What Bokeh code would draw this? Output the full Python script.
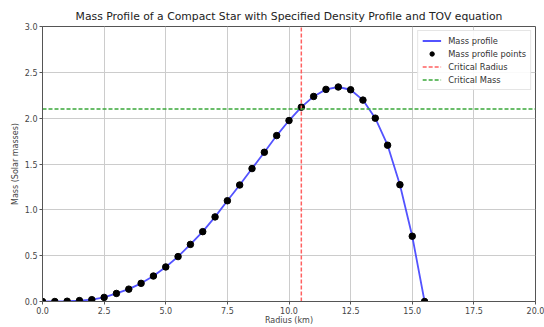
from bokeh.plotting import figure
from bokeh.models import Span, Legend, LegendItem, FixedTicker, Range1d
from bokeh.embed import file_html
from bokeh.resources import INLINE

radius_km = [0.0, 0.5, 1.0, 1.5, 2.0, 2.5, 3.0, 3.5, 4.0, 4.5, 5.0, 5.5, 6.0, 6.5, 7.0, 7.5,
             8.0, 8.5, 9.0, 9.5, 10.0, 10.5, 11.0, 11.5, 12.0, 12.5, 13.0, 13.5, 14.0, 14.5, 15.0, 15.5]
mass_solar = [0.0, 0.0, 0.003, 0.01, 0.02, 0.045, 0.088, 0.135, 0.198, 0.278, 0.377, 0.49, 0.623, 0.762,
              0.923, 1.099, 1.271, 1.45, 1.628, 1.81, 1.974, 2.12, 2.237, 2.314, 2.34, 2.31, 2.197, 2.0,
              1.705, 1.274, 0.712, 0.0]
critical_radius = 10.5
critical_mass = 2.1
x_ticks = [0.0, 2.5, 5.0, 7.5, 10.0, 12.5, 15.0, 17.5, 20.0]
y_ticks = [0.0, 0.5, 1.0, 1.5, 2.0, 2.5, 3.0]

FONT = "DejaVu Sans"

p = figure(width=544, height=327, output_backend="svg", toolbar_location=None,
           x_range=Range1d(0, 20), y_range=Range1d(0, 3),
           min_border_left=42, min_border_right=9, min_border_top=26, min_border_bottom=26,
           title="Mass Profile of a Compact Star with Specified Density Profile and TOV equation")
p.background_fill_color = "white"
p.border_fill_color = "white"
p.outline_line_color = "#555555"
p.outline_line_width = 1

p.title.text_font = FONT
p.title.text_font_size = "10.8px"
p.title.text_font_style = "normal"
p.title.text_color = "#222222"
p.title.align = "center"
p.title.offset = 0
p.title.standoff = 7

for ax in (p.xaxis[0], p.yaxis[0]):
    ax.major_label_text_font = FONT
    ax.major_label_text_font_size = "8px"
    ax.major_label_text_color = "#444444"
    ax.axis_label_text_font = FONT
    ax.axis_label_text_font_size = "8px"
    ax.axis_label_text_font_style = "normal"
    ax.axis_label_text_color = "#444444"
    ax.axis_line_color = "#555555"
    ax.major_tick_line_color = "#555555"
    ax.major_tick_out = 3
    ax.major_tick_in = 0
    ax.minor_tick_line_color = None
    ax.major_label_standoff = 2
    ax.axis_label_standoff = 2

p.xaxis[0].major_label_standoff = 2
p.xaxis[0].axis_label_standoff = -1

p.xaxis.ticker = FixedTicker(ticks=x_ticks)
p.yaxis.ticker = FixedTicker(ticks=y_ticks)
p.xaxis.axis_label = "Radius (km)"
p.yaxis.axis_label = "Mass (Solar masses)"
p.xaxis[0].major_label_overrides = {t: f"{t:.1f}" for t in x_ticks}
p.yaxis[0].major_label_overrides = {t: f"{t:.1f}" for t in y_ticks}

p.xgrid.ticker = FixedTicker(ticks=x_ticks)
p.ygrid.ticker = FixedTicker(ticks=y_ticks)
p.grid.grid_line_color = "#cccccc"
p.grid.grid_line_width = 1

line = p.line(radius_km, mass_solar, line_color="#4040ff", line_width=1.8, line_alpha=0.9)
pts = p.scatter(radius_km, mass_solar, size=6.5, fill_color="black", line_color="black")

vline = p.line([critical_radius, critical_radius], [0, 3], line_color="#ff6060", line_dash="4 2", line_width=1.5)
hline = p.line([0, 20], [critical_mass, critical_mass], line_color="#3aa83a", line_dash="4 2", line_width=1.5)

legend = Legend(items=[
    LegendItem(label="Mass profile", renderers=[line]),
    LegendItem(label="Mass profile points", renderers=[pts]),
    LegendItem(label="Critical Radius", renderers=[vline]),
    LegendItem(label="Critical Mass", renderers=[hline]),
], location="top_right")
legend.label_text_font = FONT
legend.label_text_font_size = "8.3px"
legend.label_text_color = "#333333"
legend.label_height = 11
legend.glyph_height = 11
legend.glyph_width = 19
legend.spacing = 2
legend.padding = 4
legend.margin = 4
legend.border_line_color = "#cccccc"
legend.background_fill_alpha = 0.9
legend.label_standoff = 7
p.add_layout(legend)

open("out.html", "w").write(file_html(p, INLINE))
